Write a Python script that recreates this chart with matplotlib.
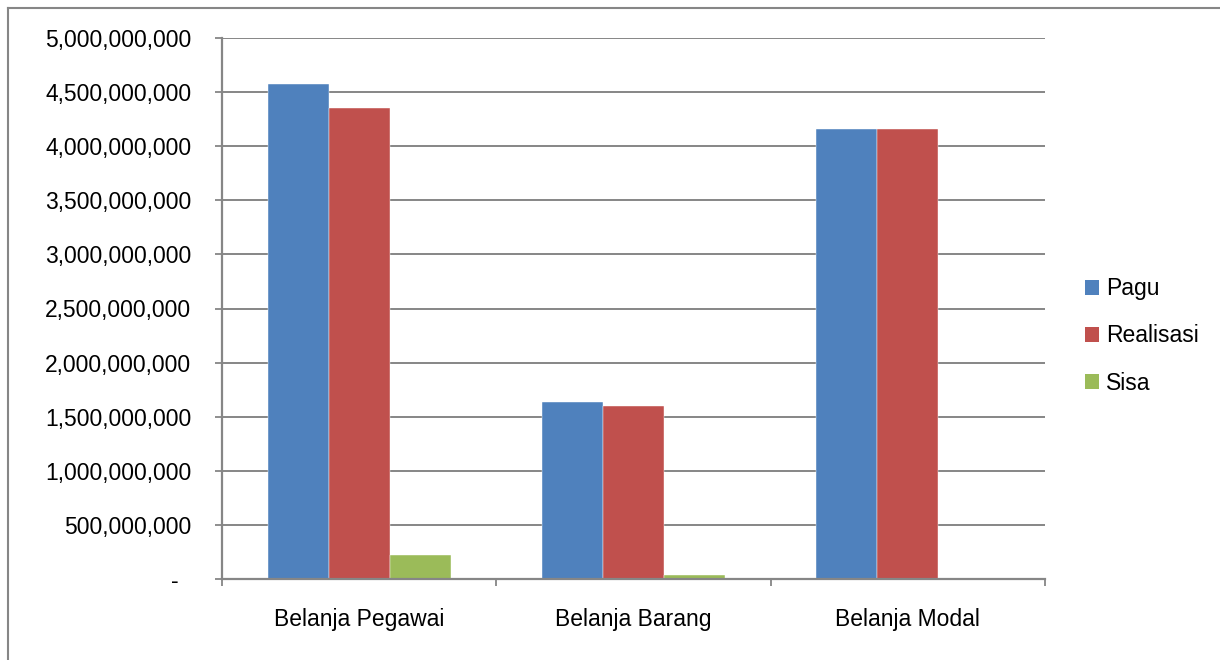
import matplotlib
matplotlib.use('Agg')
import matplotlib.pyplot as plt
from matplotlib.patches import Patch
from matplotlib.lines import Line2D
from matplotlib.ticker import FuncFormatter, MultipleLocator, FixedLocator
import numpy as np

plt.rcParams['font.family'] = ['Liberation Sans', 'DejaVu Sans']

# ---------- data ----------
categories = ['Belanja Pegawai', 'Belanja Barang', 'Belanja Modal']
series_names = ['Pagu', 'Realisasi', 'Sisa']
pagu = [4575000000, 1636000000, 4162000000]
realisasi = [4356000000, 1596000000, 4160000000]
sisa = [219000000, 40000000, 0]
colors = ['#4F81BD', '#C0504D', '#9BBB59']

GRAY = '#868686'
FS = 16.5

fig = plt.figure(figsize=(12.2, 6.6), dpi=100)
ax = fig.add_axes([222 / 1220, 1 - 579 / 660, (1045 - 222) / 1220, (579 - 38) / 660])

x = np.arange(len(categories))
w = 1 / 4.5
for i, (vals, c) in enumerate(zip([pagu, realisasi, sisa], colors)):
    ax.bar(x + (i - 1) * w, vals, width=w, color=c, zorder=3,
           edgecolor='white', linewidth=0.3)

ax.set_xlim(-0.5, len(categories) - 0.5)
ax.set_ylim(0, 5e9)

# y axis: ticks every 500 million, accounting style "-" for zero
ax.yaxis.set_major_locator(MultipleLocator(5e8))
ax.yaxis.set_major_formatter(FuncFormatter(
    lambda v, p: '-  ' if v == 0 else f'{v:,.0f}'))
ax.tick_params(axis='y', direction='out', length=5, width=1.3, color=GRAY,
               labelsize=FS, pad=17)
ax.grid(axis='y', color=GRAY, linewidth=1.4, zorder=0)

# x axis: ticks between groups, labels centred under groups
ax.xaxis.set_major_locator(FixedLocator(np.arange(-0.5, len(categories), 1.0)))
ax.xaxis.set_major_formatter(FuncFormatter(lambda v, p: ''))
ax.xaxis.set_minor_locator(FixedLocator(x))
ax.set_xticklabels(categories, minor=True)
ax.tick_params(axis='x', which='major', direction='out', length=5, width=1.3,
               color=GRAY)
ax.tick_params(axis='x', which='minor', length=0, labelsize=FS, pad=21)

for s in ['top', 'right']:
    ax.spines[s].set_visible(False)
for s in ['left', 'bottom']:
    ax.spines[s].set_color(GRAY)
    ax.spines[s].set_linewidth(1.6)
    ax.spines[s].set_zorder(4)

handles = [Patch(facecolor=c, edgecolor='none') for c in colors]
fig.legend(handles, series_names, loc='center left',
           bbox_to_anchor=(1085 / 1220, 1 - 336 / 660), frameon=False,
           fontsize=FS, handlelength=0.62, handleheight=0.62,
           handletextpad=0.3, labelspacing=1.05, borderpad=0, borderaxespad=0)

# outer chart border (top and left edges visible)
fig.add_artist(Line2D([8 / 1220, 8 / 1220], [0, 1 - 8 / 660],
                      transform=fig.transFigure, color=GRAY, linewidth=1.5))
fig.add_artist(Line2D([8 / 1220, 1], [1 - 8 / 660, 1 - 8 / 660],
                      transform=fig.transFigure, color=GRAY, linewidth=1.5))

fig.savefig('out.png', dpi=100)
